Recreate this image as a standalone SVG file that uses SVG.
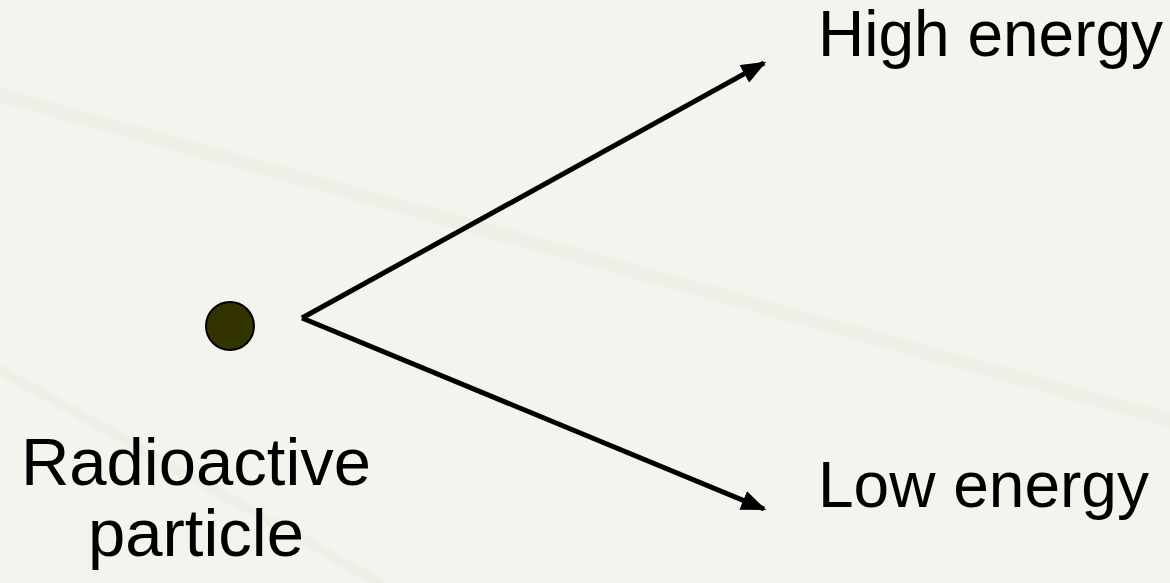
<svg xmlns="http://www.w3.org/2000/svg" width="1170" height="583" viewBox="0 0 1170 583">
<style>
.lbl{font-family:"Liberation Sans",Arial,sans-serif;font-size:64px;fill:#000}
.big{font-size:67px}
.conn{stroke:#000;stroke-width:5;fill:none}
.streak{stroke:#ecede4;fill:none;stroke-linecap:round}
</style>
<defs>
<marker id="ah" markerWidth="5" markerHeight="4" refX="4.5" refY="2" orient="auto" markerUnits="strokeWidth">
<path d="M0,0 L5,2 L0,4 Z" fill="#000"/>
</marker>
</defs>
<rect width="1170" height="583" fill="#f4f4ef"/>
<g id="background-streaks" opacity="0.7">
<path class="streak" d="M0,95 L1170,420" stroke-width="14"/>
<path class="streak" d="M0,370 L380,583" stroke-width="10"/>
</g>
<g id="particle">
<circle cx="230" cy="326" r="24" fill="#333300" stroke="#000" stroke-width="2"/>
<text class="lbl big" x="196" y="485" text-anchor="middle">Radioactive</text>
<text class="lbl big" x="196" y="556" text-anchor="middle">particle</text>
</g>
<g id="high">
<text class="lbl" x="818" y="56">High energy</text>
</g>
<g id="low">
<text class="lbl" x="818" y="507">Low energy</text>
</g>
<g id="connectors">
<path class="conn" d="M302,318 L764,63" marker-end="url(#ah)"/>
<path class="conn" d="M302,318 L764,509" marker-end="url(#ah)"/>
</g>
</svg>
